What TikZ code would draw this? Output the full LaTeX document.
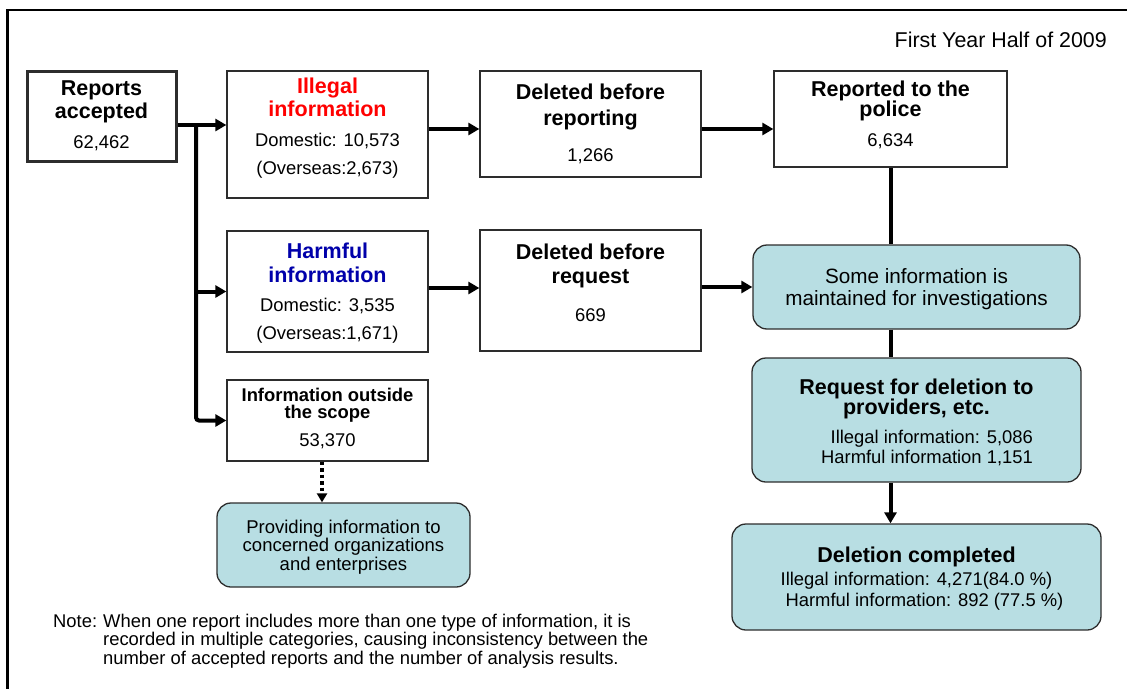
\documentclass[tikz,border=0pt]{standalone}
\usepackage{fontspec}
\setmainfont{Liberation Sans}
\usepackage{xcolor}
\usetikzlibrary{positioning}
\usetikzlibrary{arrows.meta}

\definecolor{boxteal}{RGB}{184,222,227}
\definecolor{illred}{RGB}{255,0,0}
\definecolor{harmblue}{RGB}{0,0,170}
\definecolor{edgegray}{RGB}{45,45,45}

\newcommand\hdsize{\fontsize{21.5}{23}\selectfont\bfseries}
\newcommand\subline[1]{{\fontsize{18.4}{20}\selectfont\mdseries\color{black}#1}}

\tikzset{
  infobox/.style={draw=edgegray, line width=1.3pt, fill=white, inner sep=0pt, align=center, font=\hdsize},
  roundbox/.style={draw=edgegray, line width=1.3pt, fill=boxteal, rounded corners=14pt, inner sep=0pt, align=center},
  flow/.style={line width=4pt, -{Triangle[length=11pt,width=12pt]}},
  link/.style={line width=4pt},
}

\begin{document}
\begin{tikzpicture}[x=1pt, y=-1pt]
\useasboundingbox (0,0) rectangle (1127,688);

% frame
\draw[line width=2.4pt] (7.5,700) -- (7.5,10) -- (1140,10);

\node[anchor=east, inner sep=0pt, font=\fontsize{21.4}{24}\selectfont] (period) at (1107,40) {First Year Half of 2009};

% boxes
\node[infobox, line width=3pt, minimum width=149pt, minimum height=90pt] (reports) at (101.5,116)
  {Reports\\accepted\\[7pt]\subline{62,462}};
\node[infobox, text=illred, minimum width=201pt, minimum height=127pt, text depth=16.4pt] (illegal) at (327.5,134.5)
  {Illegal\\information\\[7pt]\subline{Domestic: 10,573}\\[5.3pt]\subline{(Overseas:2,673)}};
\node[infobox, minimum width=221pt, minimum height=106pt] (delrep) at (590.5,124)
  {Deleted before\\[2.3pt]reporting\\[13.3pt]\subline{1,266}};
\node[infobox, minimum width=233pt, minimum height=96pt, text depth=9.6pt] (police) at (890.5,119)
  {Reported to the\\[-3pt]police\\[7pt]\subline{6,634}};
\node[infobox, text=harmblue, minimum width=201pt, minimum height=121pt, text depth=-1.7pt] (harmful) at (327.5,291.5)
  {Harmful\\[0.7pt]information\\[6pt]\subline{Domestic: 3,535}\\[5.7pt]\subline{(Overseas:1,671)}};
\node[infobox, minimum width=221pt, minimum height=121pt, text depth=15.3pt] (delreq) at (590.5,290.5)
  {Deleted before\\[1pt]request\\[14.4pt]\subline{669}};
\node[infobox, minimum width=201pt, minimum height=81pt, text depth=6pt, font=\fontsize{18.4}{16.2}\selectfont\bfseries] (outside) at (327.5,420.5)
  {Information outside\\the scope\\[10.5pt]\subline{53,370}};

\node[roundbox, minimum width=327pt, minimum height=84pt, text depth=-5pt, font=\fontsize{20.7}{21.6}\selectfont] (someinfo) at (916.5,287)
  {Some information is\\maintained for investigations};
\node[roundbox, minimum width=329pt, minimum height=124pt, text depth=18pt, font=\hdsize] (request) at (916.5,420)
  {Request for deletion to\\[-2.3pt]providers, etc.\\[5.7pt]\subline{\hspace*{21pt}\begin{tabular}[t]{@{}r@{}}Illegal information: 5,086\\Harmful information 1,151\end{tabular}}};
\node[roundbox, minimum width=369pt, minimum height=106pt, text depth=-3.6pt, font=\hdsize] (deletion) at (916.5,577)
  {Deletion completed\\[0.3pt]\subline{Illegal information: 4,271(84.0 \%)}\\[-2pt]\subline{\hspace*{16pt}Harmful information: 892 (77.5 \%)}};
\node[roundbox, minimum width=253pt, minimum height=84pt, text depth=-2.2pt, font=\fontsize{18.5}{17}\selectfont] (providing) at (343.5,545)
  {Providing information to\\concerned organizations\\[0.3pt]and enterprises};

\node[anchor=west, inner sep=0pt, font=\fontsize{18.4}{18}\selectfont] (note) at (53,642)
  {\begin{tabular}{@{}l@{\hspace{6pt}}l@{}}Note: & When one report includes more than one type of information, it is\\
   & recorded in multiple categories, causing inconsistency between the\\
   & number of accepted reports and the number of analysis results.\end{tabular}};

% connectors
\coordinate (fork) at (196,125);
\draw[flow] (reports.east |- fork) -- (illegal.west |- fork);
\draw[flow] (fork |- harmful.west) -- (harmful.west);
\draw[flow, rounded corners=3pt] (fork) |- (outside.west);
\draw[flow] ([yshift=-5pt]delrep.west -| illegal.east) -- ([yshift=-5pt]delrep.west);
\draw[flow] ([yshift=-5pt]delrep.east) -- ([yshift=-5pt]delrep.east -| police.west);
\draw[flow] ([yshift=2.5pt]delreq.west -| harmful.east) -- ([yshift=2.5pt]delreq.west);
\draw[flow] (someinfo.west -| delreq.east) -- (someinfo.west);
\draw[link] (police.south) -- (police.south |- someinfo.north);
\draw[link] (police.south |- someinfo.south) -- (police.south |- request.north);
\draw[flow] (police.south |- request.south) -- (police.south |- deletion.north);
\draw[line width=3.5pt, dash pattern=on 3.5pt off 3pt, -{Triangle[length=9pt,width=10pt]}]
  ([xshift=-5.5pt]outside.south) -- ([xshift=-5.5pt]outside.south |- providing.north);

\end{tikzpicture}
\end{document}
